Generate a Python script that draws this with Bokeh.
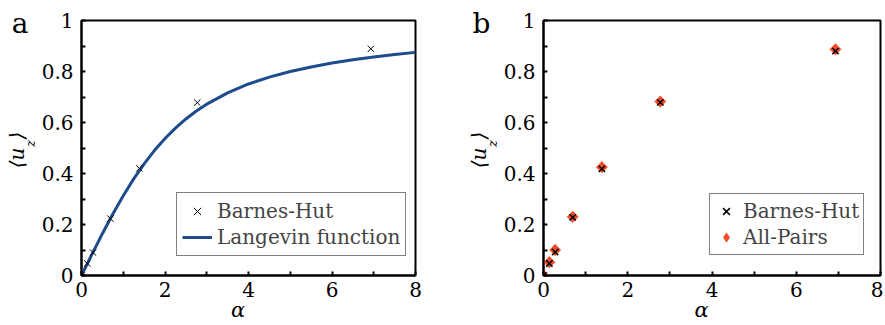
from math import pi
from bokeh.plotting import figure
from bokeh.layouts import row
from bokeh.models import (FixedTicker, CustomJSTickFormatter, LegendItem, Legend,
                          LinearAxis)
from bokeh.embed import file_html
from bokeh.resources import INLINE

# ---- data ----
alpha = [0, 0.139, 0.277, 0.693, 1.386, 2.773, 6.931]
bh_a = [0, 0.047, 0.090, 0.223, 0.420, 0.678, 0.889]
bh_b = [0, 0.047, 0.092, 0.228, 0.418, 0.679, 0.880]
ap_b = [0, 0.052, 0.100, 0.230, 0.425, 0.682, 0.887]

lang_x = [0, 0.25, 0.5, 0.75, 1.0, 1.25, 1.5, 1.75, 2.0, 2.25, 2.5, 2.75, 3.0,
          3.5, 4.0, 4.5, 5.0, 5.5, 6.0, 6.5, 7.0, 7.5, 8.0]
lang_y = [0, 0.083, 0.164, 0.241, 0.313, 0.379, 0.438, 0.491, 0.537, 0.578,
          0.614, 0.645, 0.672, 0.716, 0.751, 0.778, 0.800, 0.818, 0.833,
          0.846, 0.857, 0.867, 0.875]

x_ticks = [0, 2, 4, 6, 8]
x_minor = [1, 3, 5, 7]
y_ticks = [0, 0.2, 0.4, 0.6, 0.8, 1.0]
y_minor = [0.1, 0.3, 0.5, 0.7, 0.9]
panel_letter_y = 0.988

FONT = "DejaVu Serif"
BLUE = "#1d4b8c"
RED = "#f24b28"
H = 325
FL, FB, FT = 81, 275, 20  # frame left / bottom / top in figure pixels


def make_fig(width, right, panel):
    p = figure(width=width, height=H, x_range=(0, 8), y_range=(0, 1),
               output_backend="svg", toolbar_location=None,
               min_border_left=FL, min_border_right=right,
               min_border_top=FT, min_border_bottom=H - FB)
    p.grid.visible = False
    p.outline_line_color = "black"
    p.outline_line_width = 2
    p.outline_line_alpha = 1
    p.xaxis.ticker = FixedTicker(ticks=x_ticks, minor_ticks=x_minor)
    p.yaxis.ticker = FixedTicker(ticks=y_ticks, minor_ticks=y_minor)
    p.yaxis.formatter = CustomJSTickFormatter(
        code="return (tick == 0) ? '0' : (Math.abs(tick - 1) < 1e-9 ? '1' : tick.toFixed(1));")
    for ax in (p.xaxis[0], p.yaxis[0]):
        ax.axis_line_width = 2
        ax.axis_line_color = "black"
        ax.major_tick_in = 4
        ax.major_tick_out = 0
        ax.minor_tick_in = 4
        ax.minor_tick_out = 0
        ax.major_tick_line_width = 2
        ax.minor_tick_line_width = 2
        ax.major_label_text_font = FONT
        ax.major_label_text_font_size = "20px"
        ax.major_label_text_color = "black"
    p.xaxis.major_label_standoff = 6
    p.yaxis.major_label_standoff = 8

    # x axis label
    xa = p.xaxis[0]
    xa.axis_label = "α\u2003"
    xa.axis_label_text_font = FONT
    xa.axis_label_text_font_style = "italic"
    xa.axis_label_text_font_size = "21px"
    xa.axis_label_text_color = "black"
    xa.axis_label_standoff = -2

    # y axis label <u_z>: subscript on the main axis, the rest on an outer axis
    ya = p.yaxis[0]
    ya.axis_label = "\u2002\u2009z"
    ya.axis_label_text_font = FONT
    ya.axis_label_text_font_style = "italic"
    ya.axis_label_text_font_size = "13px"
    ya.axis_label_text_color = "black"
    ya.axis_label_standoff = 1

    outer = LinearAxis(ticker=FixedTicker(ticks=[], minor_ticks=[]),
                       axis_line_color=None, major_tick_line_color=None,
                       minor_tick_line_color=None, major_label_standoff=0,
                       axis_label="⟨u\u2009\u2009⟩\u2009", axis_label_text_font=FONT,
                       axis_label_text_font_style="italic",
                       axis_label_text_font_size="20px",
                       axis_label_text_color="black", axis_label_standoff=-9)
    p.add_layout(outer, "left")

    # panel letter as the single tick label of an outermost axis
    letter = LinearAxis(ticker=FixedTicker(ticks=[panel_letter_y], minor_ticks=[]),
                        major_label_overrides={panel_letter_y: panel},
                        major_label_text_font=FONT,
                        major_label_text_font_size="28px",
                        major_label_text_color="black",
                        major_label_standoff=-33,
                        axis_line_color=None, major_tick_line_color=None,
                        minor_tick_line_color=None)
    p.add_layout(letter, "left")
    return p


p1 = make_fig(462, 47, "a")
lang_r = p1.line(lang_x, lang_y, line_color=BLUE, line_width=3)
bh1_r = p1.scatter(alpha, bh_a, marker="x", size=9, line_color="black", line_width=1)

p2 = make_fig(421, 3, "b")
ap_leg = p2.scatter(alpha, ap_b, marker="diamond", size=11, fill_color=RED,
                    line_color=RED, line_width=0.5)
p2.scatter(alpha, ap_b, marker="square", angle=pi / 4, size=8, fill_color=RED,
           line_color=RED, line_width=0.5)
bh2_r = p2.scatter(alpha, bh_b, marker="x", size=9, line_color="black", line_width=1.5)

leg1 = Legend(items=[LegendItem(label="Barnes-Hut", renderers=[bh1_r]),
                     LegendItem(label="Langevin function", renderers=[lang_r])])
leg2 = Legend(items=[LegendItem(label="Barnes-Hut", renderers=[bh2_r]),
                     LegendItem(label="All-Pairs", renderers=[ap_leg])])
p1.add_layout(leg1, "center")
p2.add_layout(leg2, "center")

for lg, loc, gw, pad in ((leg1, (95, 19), 30, 5), (leg2, (166, 20), 24, 4)):
    lg.location = loc
    lg.border_line_color = "black"
    lg.border_line_width = 1.5
    lg.background_fill_alpha = 1
    lg.label_text_font = FONT
    lg.label_text_font_size = "20px"
    lg.glyph_width = gw
    lg.glyph_height = 26
    lg.label_height = 26
    lg.label_standoff = 5
    lg.padding = pad
    lg.spacing = 0
    lg.margin = 0

layout = row(p1, p2)
open("out.html", "w").write(file_html(layout, INLINE))
